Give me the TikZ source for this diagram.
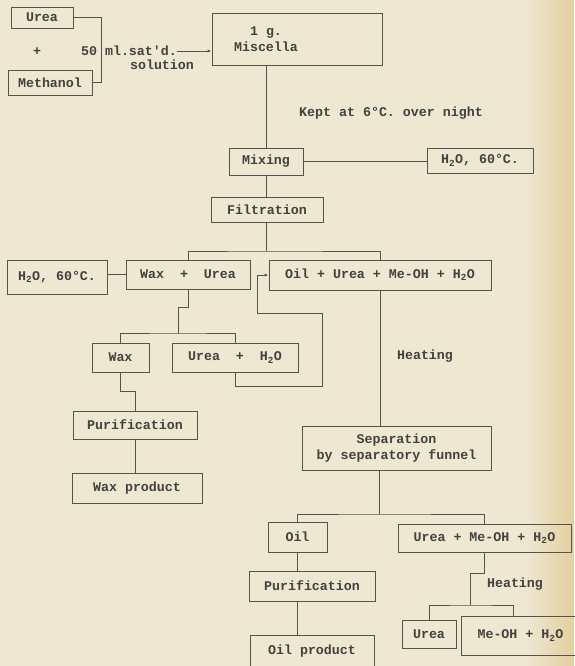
\documentclass[tikz,border=0pt]{standalone}
\usepackage{fontspec}
\setmonofont{Liberation Mono}
\usetikzlibrary{arrows.meta}

\definecolor{paper}{RGB}{238,231,210}
\definecolor{paperdark}{RGB}{228,208,160}
\definecolor{ink}{RGB}{88,82,78}
\definecolor{typed}{RGB}{70,64,62}

\tikzset{every picture/.style={line width=0.75pt}}
\tikzset{
  box/.style={draw=ink, rectangle, inner sep=0pt, text=typed, font=\fontsize{13.3}{16}\ttfamily\bfseries, align=center},
  lbl/.style={inner sep=0pt, text=typed, font=\fontsize{13.3}{16}\ttfamily\bfseries, align=center},
  link/.style={draw=ink}
}

\begin{document}
\begin{tikzpicture}[x=1pt,y=1pt,yscale=-1,xscale=1]
        % paper
        \fill [paper] (0,0) rectangle (574,666);
        \shade [left color=paper, right color=paperdark] (525,0) rectangle (574,666);
        \useasboundingbox (0,0) rectangle (574,666);

        %Shape: Rectangle [Urea / Methanol]
        \node [box, minimum width=62, minimum height=21] (urea) at (42,17.5) {Urea};
        \node [box, minimum width=84, minimum height=25] (methanol) at (50,82.5) {Methanol};
        % Text Node
        \node [lbl] (plus) at (37,52) {+};
        \node [lbl] (satd) at (129,51) {50 ml.sat'd.};
        \node [lbl] (solution) at (162,65) {solution};

        %Shape: Rectangle [Miscella]
        \node [box, minimum width=170, minimum height=52,
               label={[lbl, xshift=-31]center:{1 g.\\Miscella}}] (miscella) at (297,39) {};

        % Text Node
        \node [lbl] (kept) at (391,113) {Kept at 6°C. over night};

        \node [box, minimum width=74, minimum height=27] (mixing) at (266,161.5) {Mixing};
        \node [box, minimum width=106, minimum height=25] (watera) at (480,160.5) {H\textsubscript{2}O, 60°C.};
        \node [box, minimum width=112, minimum height=25] (filtration) at (267,209.5) {Filtration};

        \node [box, minimum width=100, minimum height=34] (waterb) at (57,277) {H\textsubscript{2}O, 60°C.};
        \node [box, minimum width=124, minimum height=29] (waxurea) at (188,274.5) {Wax \ + \ Urea};
        \node [box, minimum width=222, minimum height=30] (oilmix) at (380,275) {Oil + Urea + Me-OH + H\textsubscript{2}O};

        \node [box, minimum width=57, minimum height=29] (wax) at (120.5,357.5) {Wax};
        \node [box, minimum width=126, minimum height=29] (ureawater) at (235,357.5) {Urea \ + \ H\textsubscript{2}O};
        % Text Node
        \node [lbl] (heatinga) at (425,356) {Heating};

        \node [box, minimum width=124, minimum height=28] (purifa) at (135,425) {Purification};
        \node [box, minimum width=130, minimum height=30] (waxprod) at (137,488) {Wax product};

        \node [box, minimum width=189, minimum height=44] (separation) at (396.5,448) {Separation\\by separatory funnel};

        \node [box, minimum width=59, minimum height=30] (oil) at (297.5,537) {Oil};
        \node [box, minimum width=173, minimum height=28] (umw) at (484.5,538) {Urea + Me-OH + H\textsubscript{2}O};
        \node [box, minimum width=126, minimum height=30] (purifb) at (312,586) {Purification};
        \node [box, minimum width=124, minimum height=33] (oilprod) at (312,651.5) {Oil product};
        % Text Node
        \node [lbl] (heatingb) at (515,584) {Heating};
        \node [box, minimum width=54, minimum height=28] (ureab) at (429,634) {Urea};
        \node [box, minimum width=119, minimum height=39] (meoh) at (520.5,635.5) {Me-OH + H\textsubscript{2}O};

        % split points
        \coordinate (fsplit) at (266,251);
        \coordinate (wsplit) at (178,333);
        \coordinate (ssplit) at (379,514);
        \coordinate (usplit) at (470,605);

        %Straight Lines
        \draw [link] (urea.east) -| ([xshift=9]methanol.east) -- (methanol.east);
        \draw [link, -{Latex[length=4pt,width=3pt]}] (satd.east) -- (miscella.west |- satd.east);
        \draw [link] (mixing.north) -- (mixing.north |- miscella.south);
        \draw [link] (mixing.east) -- (watera.west |- mixing.east);
        \draw [link] (mixing.south) -- (mixing.south |- filtration.north);
        \draw [link] (filtration.south -| fsplit) -- (fsplit);
        \draw [link] (waxurea.north) |- (fsplit) -| (oilmix.north);
        \draw [link] (waterb.east |- waxurea) -- (waxurea.west);
        \draw [link] (waxurea.south) -- ++(0,18) -| (wsplit);
        \draw [link] (wax.north) |- (wsplit) -| (ureawater.north);
        \draw [link, -{Latex[length=4pt,width=3pt]}] (ureawater.south) |- (322,386) |- (257,313) |- (oilmix.west);
        \draw [link] (wax.south) -- ++(0,19) -| (purifa.north);
        \draw [link] (purifa.south) -- (purifa.south |- waxprod.north);
        \draw [link] (oilmix.south) -- (oilmix.south |- separation.north);
        \draw [link] (separation.south -| ssplit) -- (ssplit);
        \draw [link] (oil.north) |- (ssplit) -| (umw.north);
        \draw [link] (oil.south) -- (oil.south |- purifb.north);
        \draw [link] (oil.south |- purifb.south) -- (oil.south |- oilprod.north);
        \draw [link] (umw.south) -- ++(0,21) -| (usplit);
        \draw [link] (ureab.north) |- (usplit) -| ([xshift=-7]meoh.north);

\end{tikzpicture}
\end{document}
